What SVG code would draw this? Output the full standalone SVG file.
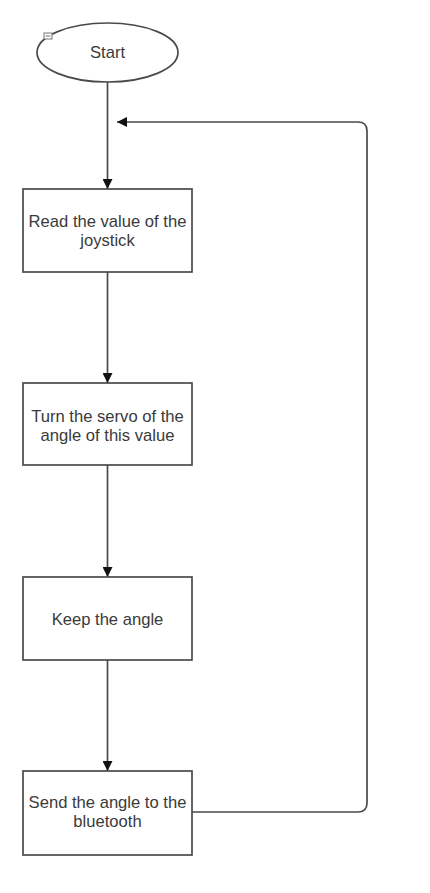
<svg xmlns="http://www.w3.org/2000/svg" width="430" height="893" viewBox="0 0 430 893">
<style>
.n{fill:#fff;stroke:#4a4a4a;stroke-width:1.7}
.t{font-family:"Liberation Sans",Arial,sans-serif;font-size:16.6px;fill:#3a3a3a;text-anchor:middle}
.c{fill:none;stroke:#4a4a4a;stroke-width:1.7}
</style>
<defs>
<marker id="ah" viewBox="0 0 10 10" refX="10" refY="5" markerWidth="10" markerHeight="10" markerUnits="userSpaceOnUse" orient="auto">
<path d="M0,0 L10,5 L0,10 Z" fill="#111"/>
</marker>
</defs>
<rect width="430" height="893" fill="#fff"/>
<g id="connectors">
<path class="c" d="M107.5,82 V189" marker-end="url(#ah)"/>
<path class="c" d="M107.5,272 V383" marker-end="url(#ah)"/>
<path class="c" d="M107.5,465 V577" marker-end="url(#ah)"/>
<path class="c" d="M107.5,660 V771" marker-end="url(#ah)"/>
<path class="c" d="M192,812 H358 Q367,812 367,803 V131 Q367,122 358,122 H117" marker-end="url(#ah)"/>
</g>
<g id="start">
<ellipse class="n" cx="107.5" cy="52.5" rx="70.5" ry="29.5"/>
<rect x="44" y="33" width="8" height="6" fill="#fff" stroke="#777" stroke-width="1"/>
<line x1="45.5" y1="36" x2="50.5" y2="36" stroke="#777" stroke-width="1"/>
<text class="t" x="107.5" y="58">Start</text>
</g>
<g id="read">
<rect class="n" x="23" y="189" width="169" height="83"/>
<text class="t" x="107.5" y="227">Read the value of the</text>
<text class="t" x="107.5" y="246">joystick</text>
</g>
<g id="turn">
<rect class="n" x="23" y="383" width="169" height="82"/>
<text class="t" x="107.5" y="422">Turn the servo of the</text>
<text class="t" x="107.5" y="441">angle of this value</text>
</g>
<g id="keep">
<rect class="n" x="23" y="577" width="169" height="83"/>
<text class="t" x="107.5" y="625">Keep the angle</text>
</g>
<g id="send">
<rect class="n" x="23" y="771" width="169" height="84"/>
<text class="t" x="107.5" y="808">Send the angle to the</text>
<text class="t" x="107.5" y="827">bluetooth</text>
</g>
</svg>
